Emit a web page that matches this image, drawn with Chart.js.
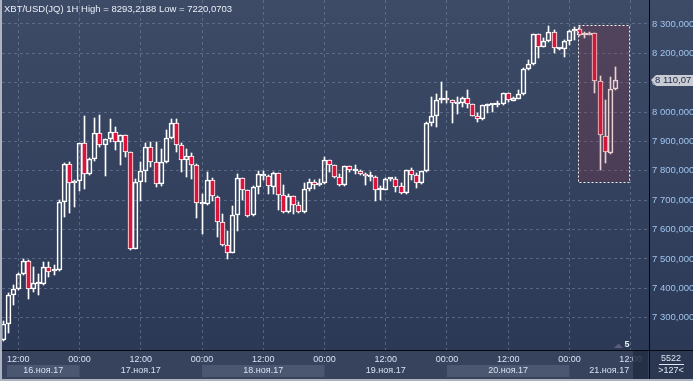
<!DOCTYPE html>
<html>
<head>
<meta charset="utf-8">
<script src="https://cdn.jsdelivr.net/npm/chart.js@4.4.0/dist/chart.umd.min.js"></script>
<style>
  html, body { margin: 0; padding: 0; background: #2c3956; }
  #wrap { width: 693px; height: 381px; }
</style>
</head>
<body>
<div id="wrap"><canvas id="chart" width="693" height="381"></canvas></div>
<script>
const title = "XBT/USD(JQ) 1H High = 8293,2188 Low = 7220,0703";

// hourly candles, first one is 16.11 09:00 (hours counted from 16.11 00:00)
const firstHour = 9;
const opens = [
  7224, 7278, 7377, 7397, 7448, 7492, 7399, 7416, 7414, 7471,
  7458, 7463, 7693, 7822, 7759, 7764, 7894, 7789, 7839, 7928,
  7888, 7907, 7933, 7899, 7921, 7863, 7535, 7763, 7800, 7880,
  7831, 7754, 7829, 7911, 7962, 7888, 7837, 7851, 7819, 7688,
  7686, 7768, 7712, 7625, 7547, 7521, 7649, 7775, 7734, 7648,
  7746, 7784, 7784, 7744, 7791, 7717, 7659, 7713, 7683, 7659,
  7737, 7761, 7751, 7758, 7836, 7819, 7778, 7751, 7815, 7801,
  7800, 7789, 7779, 7779, 7734, 7736, 7771, 7771, 7748, 7724,
  7802, 7785, 7758, 7798, 7962, 7988, 8040, 8046, 8040, 8026,
  8032, 8047, 8027, 7988, 7975, 8022, 8023, 8024, 8027, 8064,
  8039, 8046, 8060, 8146, 8164, 8265, 8223, 8242, 8272, 8215,
  8214, 8242, 8276, 8282, 8262, 8264, 8268, 8106, 7919, 7862,
  8078
];
const highs = [
  7290, 7385, 7411, 7453, 7500, 7495, 7474, 7449, 7491, 7491,
  7479, 7701, 7826, 7831, 7769, 7896, 7987, 7843, 7979, 7990,
  7909, 7975, 7948, 7923, 7923, 7865, 7771, 7829, 7894, 7899,
  7899, 7873, 7939, 7975, 7975, 7896, 7873, 7860, 7822, 7720,
  7795, 7775, 7713, 7652, 7595, 7680, 7789, 7777, 7736, 7748,
  7800, 7800, 7786, 7797, 7793, 7751, 7720, 7715, 7695, 7758,
  7773, 7769, 7772, 7847, 7838, 7821, 7789, 7817, 7817, 7820,
  7802, 7791, 7797, 7781, 7750, 7775, 7776, 7780, 7758, 7804,
  7811, 7794, 7800, 7965, 8050, 8062, 8103, 8072, 8042, 8050,
  8050, 8075, 8029, 7996, 8025, 8026, 8027, 8038, 8066, 8066,
  8050, 8075, 8150, 8177, 8267, 8267, 8252, 8293, 8280, 8218,
  8246, 8278, 8289, 8292, 8274, 8272, 8270, 8123, 8041, 8119,
  8153
];
const lows = [
  7220, 7249, 7343, 7395, 7446, 7364, 7389, 7377, 7411, 7440,
  7446, 7460, 7642, 7657, 7678, 7733, 7737, 7786, 7835, 7882,
  7784, 7899, 7871, 7820, 7848, 7530, 7533, 7698, 7763, 7814,
  7744, 7750, 7826, 7909, 7865, 7797, 7778, 7773, 7638, 7584,
  7684, 7698, 7574, 7545, 7499, 7519, 7596, 7700, 7643, 7645,
  7720, 7770, 7721, 7720, 7667, 7657, 7657, 7652, 7657, 7657,
  7733, 7739, 7750, 7756, 7797, 7776, 7749, 7749, 7796, 7789,
  7785, 7753, 7766, 7698, 7701, 7734, 7765, 7729, 7720, 7722,
  7770, 7741, 7756, 7796, 7953, 7950, 8030, 8030, 7962, 7994,
  8019, 8013, 7986, 7967, 7973, 7998, 7999, 8016, 8025, 8036,
  8037, 8044, 8058, 8143, 8162, 8183, 8220, 8240, 8200, 8213,
  8189, 8230, 8246, 8259, 8251, 8263, 8064, 7803, 7826, 7857,
  8076
];
const closes = [
  7277, 7377, 7397, 7448, 7492, 7399, 7417, 7419, 7471, 7456,
  7464, 7693, 7822, 7758, 7764, 7894, 7789, 7839, 7928, 7888,
  7907, 7933, 7899, 7921, 7863, 7535, 7763, 7800, 7880, 7831,
  7754, 7829, 7911, 7962, 7888, 7837, 7851, 7819, 7690, 7690,
  7768, 7713, 7625, 7547, 7521, 7649, 7775, 7734, 7646, 7746,
  7788, 7788, 7748, 7791, 7717, 7659, 7713, 7683, 7659, 7737,
  7761, 7751, 7758, 7836, 7819, 7778, 7751, 7815, 7802, 7803,
  7789, 7781, 7782, 7734, 7737, 7771, 7773, 7746, 7724, 7802,
  7785, 7758, 7798, 7962, 7988, 8041, 8046, 8040, 8030, 8033,
  8047, 8027, 7988, 7975, 8023, 8024, 8025, 8027, 8064, 8040,
  8047, 8062, 8146, 8164, 8265, 8223, 8242, 8272, 8217, 8216,
  8242, 8276, 8281, 8263, 8263, 8269, 8106, 7922, 7864, 8078,
  8110.07
];

// axes
const priceTicks = [7300, 7400, 7500, 7600, 7700, 7800, 7900, 8000, 8100, 8200, 8300];
const timeTicks = [12, 24, 36, 48, 60, 72, 84, 96, 108, 120, 132];
const timeLabels = ["12:00", "00:00", "12:00", "00:00", "12:00", "00:00", "12:00", "00:00", "12:00", "00:00", "12:00"];
const dayStarts = [0, 24, 48, 72, 96, 120];
const dayLabels = ["16.ноя.17", "17.ноя.17", "18.ноя.17", "19.ноя.17", "20.ноя.17", "21.ноя.17"];
const lastPrice = "8 110,07";

// highlighted zone (hours, prices)
const zoneHours = [121.7, 131.7];
const zonePrices = [7763, 8297];

const RED = '#dc143c';
const GRID = 'rgba(118,134,164,0.55)';
const FONT = "'Liberation Sans', Arial, sans-serif";

const hours = opens.map((_, i) => firstHour + i);
const bodyLo = opens.map((o, i) => Math.min(o, closes[i]));
const bodyHi = opens.map((o, i) => Math.max(o, closes[i]));

function fmtPrice(v) {
  return String(Math.round(v)).replace(/\B(?=(\d{3})+(?!\d))/g, ' ') + ',000';
}

// keep candles on whole pixels so the 1px wicks stay crisp
const snap = {
  id: 'snap',
  afterDatasetsUpdate(chart) {
    chart.data.datasets.forEach((ds, i) => {
      chart.getDatasetMeta(i).data.forEach(el => {
        el.x = Math.floor(el.x) + 0.5;
        el.y = Math.round(el.y);
        el.base = Math.round(el.base);
      });
    });
  }
};

const decor = {
  id: 'decor',
  beforeDraw(chart) {
    const ctx = chart.ctx, a = chart.chartArea;
    const W = chart.width, H = chart.height;
    ctx.save();
    const g = ctx.createLinearGradient(0, 0, 0, a.bottom);
    g.addColorStop(0, '#3e4b67');
    g.addColorStop(1, '#2c3956');
    ctx.fillStyle = g;
    ctx.fillRect(0, 0, W, a.bottom);
    // time axis
    ctx.fillStyle = '#37425c';
    ctx.fillRect(0, a.bottom, W, H - a.bottom);
    const xs = chart.scales.x;
    ctx.fillStyle = '#4b5670';
    dayStarts.forEach((d, i) => {
      if (i % 2) return;
      const x0 = Math.max(xs.getPixelForValue(d), a.left + 5);
      const x1 = Math.min(xs.getPixelForValue(d + 24), a.right);
      ctx.fillRect(x0, 365, x1 - x0, 12);
    });
    ctx.fillStyle = '#2b3651';
    ctx.fillRect(a.right, a.bottom, W - a.right, H - a.bottom);
    ctx.restore();
  },
  afterDatasetsDraw(chart) {
    const ctx = chart.ctx, xs = chart.scales.x, ys = chart.scales.y;
    const x0 = xs.getPixelForValue(zoneHours[0]), x1 = xs.getPixelForValue(zoneHours[1]);
    const y0 = ys.getPixelForValue(zonePrices[1]), y1 = ys.getPixelForValue(zonePrices[0]);
    ctx.save();
    ctx.fillStyle = 'rgba(158,46,60,0.22)';
    ctx.fillRect(x0, y0, x1 - x0, y1 - y0);
    ctx.strokeStyle = '#f2f2f2';
    ctx.lineWidth = 1;
    ctx.setLineDash([2, 2]);
    ctx.strokeRect(Math.round(x0) + 0.5, Math.round(y0) + 0.5, Math.round(x1 - x0), Math.round(y1 - y0));
    ctx.restore();
  },
  afterDraw(chart) {
    const ctx = chart.ctx, a = chart.chartArea, xs = chart.scales.x, ys = chart.scales.y;
    const W = chart.width, H = chart.height;
    ctx.save();
    // separators
    ctx.fillStyle = '#05080f';
    ctx.fillRect(0, a.bottom, W, 1);
    ctx.fillRect(a.right, 0, 1, H);

    ctx.font = '9px ' + FONT;
    ctx.textBaseline = 'middle';
    ctx.textAlign = 'center';
    ctx.fillStyle = '#d6e2f2';
    timeTicks.forEach((t, i) => {
      ctx.fillText(timeLabels[i], xs.getPixelForValue(t), 359.5);
    });
    dayStarts.forEach((d, i) => {
      const x0 = Math.max(xs.getPixelForValue(d), a.left + 5);
      const x1 = Math.min(xs.getPixelForValue(d + 24), a.right);
      ctx.fillText(dayLabels[i], (x0 + x1) / 2, 371);
    });
    // scroll end marker
    ctx.fillStyle = 'rgba(34,43,66,0.85)';
    ctx.fillRect(633, a.bottom + 1, 15, H - a.bottom - 3);

    // bottom right counter
    ctx.fillStyle = '#dfe7f2';
    ctx.fillText('5522', 671, 358.5);
    ctx.fillRect(659, 364, 25, 1);
    ctx.fillText('>127<', 671, 371);

    // bar count marker
    ctx.fillStyle = '#5d5b7b';
    ctx.beginPath();
    ctx.moveTo(614, 348); ctx.lineTo(618.5, 343.5); ctx.lineTo(623, 348); ctx.closePath();
    ctx.fill();
    ctx.fillStyle = '#e6ecf5';
    ctx.font = 'bold 9px ' + FONT;
    ctx.fillText('5', 627, 345);

    // last price tag
    const py = Math.round(ys.getPixelForValue(closes[closes.length - 1]));
    ctx.fillStyle = '#c9ccd3';
    ctx.beginPath();
    ctx.moveTo(651, py);
    ctx.lineTo(656, py - 5);
    ctx.lineTo(W, py - 5);
    ctx.lineTo(W, py + 6);
    ctx.lineTo(656, py + 6);
    ctx.closePath();
    ctx.fill();
    ctx.fillStyle = '#1b2846';
    ctx.font = '9.5px ' + FONT;
    ctx.textAlign = 'left';
    ctx.fillText(lastPrice, 655, py + 0.5);

    // title
    ctx.fillStyle = '#e9eef7';
    ctx.font = '9.5px ' + FONT;
    ctx.fillText(title, 4, 9.5);

    // window frame
    ctx.fillStyle = '#aeb4bf';
    ctx.fillRect(0, 0, 2, H);
    ctx.fillRect(0, H - 2, W, 2);
    ctx.restore();
  }
};

new Chart(document.getElementById('chart'), {
  type: 'bar',
  data: {
    datasets: [
      {
        label: 'lower wick',
        data: hours.map((h, i) => ({ x: h, y: [lows[i], bodyLo[i]] })),
        backgroundColor: '#ffffff',
        barThickness: 1,
        borderWidth: 0
      },
      {
        label: 'upper wick',
        data: hours.map((h, i) => ({ x: h, y: [bodyHi[i], highs[i]] })),
        backgroundColor: '#ffffff',
        barThickness: 1,
        borderWidth: 0
      },
      {
        label: 'body',
        data: hours.map((h, i) => ({ x: h, y: [opens[i], closes[i]] })),
        backgroundColor: closes.map((c, i) => c < opens[i] ? RED : 'rgba(0,0,0,0)'),
        borderColor: '#ffffff',
        borderWidth: 1,
        borderSkipped: false,
        barThickness: 5,
        minBarLength: 2
      }
    ]
  },
  options: {
    responsive: false,
    animation: false,
    devicePixelRatio: 1,
    grouped: false,
    layout: { padding: { left: 2, top: 0, right: 0, bottom: 0 } },
    plugins: { legend: { display: false }, tooltip: { enabled: false } },
    scales: {
      x: {
        type: 'linear',
        offset: false,
        min: 8.8,
        max: 135.6,
        afterBuildTicks: s => { s.ticks = timeTicks.map(v => ({ value: v })); },
        afterFit: s => { s.height = 31; s.paddingLeft = 0; s.paddingRight = 0; },
        ticks: { display: false },
        grid: { color: GRID, drawTicks: false, offset: false },
        border: { display: false, dash: [3, 3] }
      },
      y: {
        position: 'right',
        min: 7190,
        max: 8381.7,
        afterBuildTicks: s => { s.ticks = priceTicks.map(v => ({ value: v })); },
        afterFit: s => { s.width = 44; s.paddingTop = 0; s.paddingBottom = 0; },
        ticks: {
          color: '#9fc4ee',
          font: { family: FONT, size: 9.5 },
          padding: 3,
          callback: v => fmtPrice(v)
        },
        grid: { color: GRID, drawTicks: false },
        border: { display: false, dash: [3, 3] }
      }
    }
  },
  plugins: [snap, decor]
});
</script>
</body>
</html>
